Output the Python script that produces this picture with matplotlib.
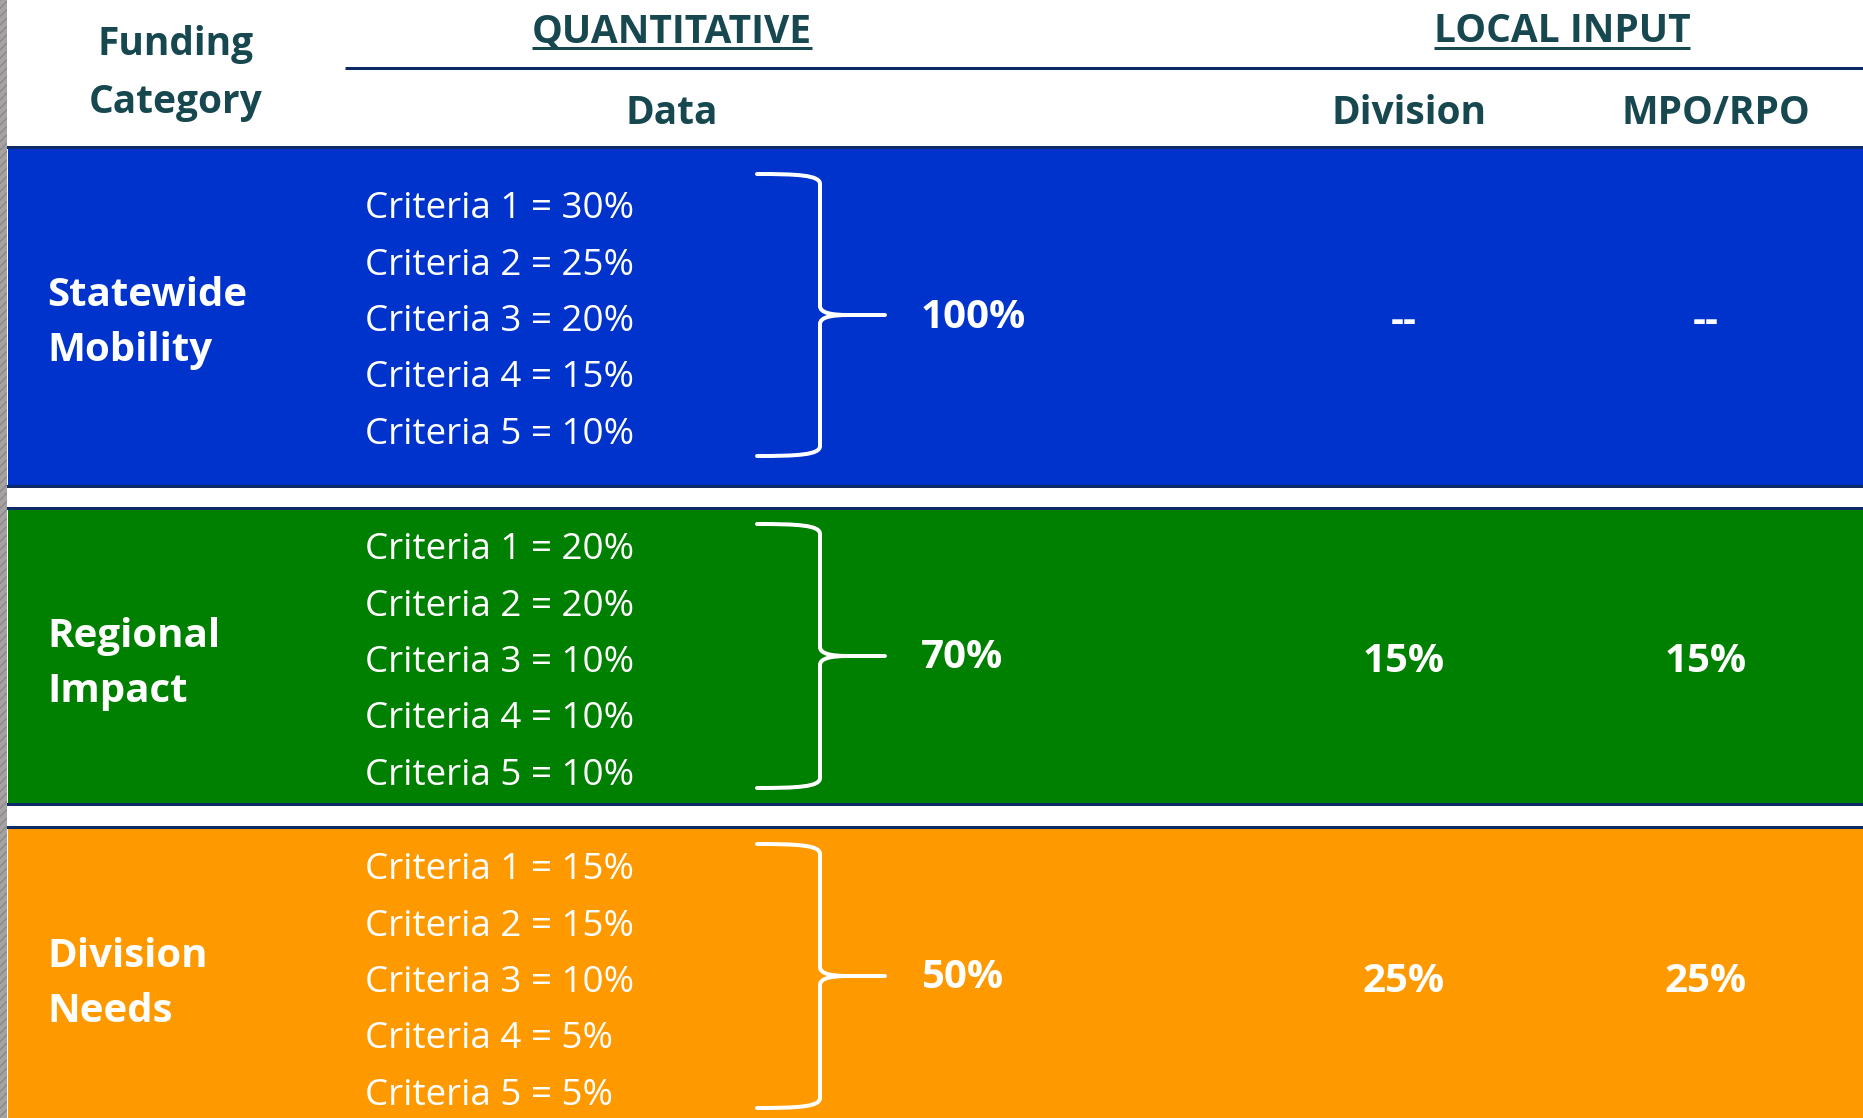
import matplotlib
matplotlib.use("Agg")
from matplotlib import pyplot as plt
from matplotlib.path import Path
from matplotlib.patches import PathPatch, Rectangle

# ---- data ----
categories = ["Statewide\nMobility", "Regional\nImpact", "Division\nNeeds"]
criteria_weights = [
    [30, 25, 20, 15, 10],
    [20, 20, 10, 10, 10],
    [15, 15, 10, 5, 5],
]
quant_share = [100, 70, 50]
division_share = [None, 15, 25]
mpo_share = [None, 15, 25]
band_colors = ["#0033CC", "#008000", "#FF9900"]

# ---- layout (pixels, figure is 1863 x 1118) ----
W, H = 1863, 1118
band_tops = [146, 507, 826]
band_bots = [487, 805, 1125]
band_mids = [315, 656, 976]
brace_half = [141, 132, 132]
HEAD = "#17474F"
NAVY = "#0C2A66"
FONT = "Open Sans"
TY = 6  # text baseline nudge


def px(v):
    # pixels -> points at dpi 100
    return v * 0.72


def brace(ax, xl, xv, xt, ytop, ymid, ybot):
    r = 10
    verts = [
        (xl, ytop), (xl + 40, ytop), (xv, ytop + 1), (xv, ytop + r),
        (xv, ymid - 9), (xv, ymid - 2), (xv + 12, ymid), (xv + 28, ymid),
        (xt, ymid),
        (xv + 28, ymid), (xv + 12, ymid), (xv, ymid + 2), (xv, ymid + 9),
        (xv, ybot - r), (xv, ybot - 1), (xl + 40, ybot), (xl, ybot),
    ]
    codes = [Path.MOVETO, Path.CURVE4, Path.CURVE4, Path.CURVE4,
             Path.LINETO, Path.CURVE4, Path.CURVE4, Path.CURVE4,
             Path.LINETO,
             Path.MOVETO, Path.CURVE4, Path.CURVE4, Path.CURVE4,
             Path.LINETO, Path.CURVE4, Path.CURVE4, Path.CURVE4]
    ax.add_patch(PathPatch(Path(verts, codes), fill=False, edgecolor="white",
                           lw=px(4), capstyle="round", joinstyle="round"))


fig = plt.figure(figsize=(W / 100, H / 100), dpi=100)
ax = fig.add_axes([0, 0, 1, 1])
ax.set_xlim(0, W)
ax.set_ylim(H, 0)
ax.axis("off")

# left textured strip
ax.add_patch(Rectangle((0, 0), 7, H, facecolor="#A6A2A2", edgecolor="#8C8888",
                       hatch="////", lw=0))

# header
ax.text(176, 39 + TY, "Funding", ha="center", va="center", fontsize=28,
        fontweight="bold", color=HEAD, family=FONT)
ax.text(176, 96 + TY, "Category", ha="center", va="center", fontsize=28,
        fontweight="bold", color=HEAD, family=FONT)
t_q = ax.text(672, 27 + TY - 1, "QUANTITATIVE", ha="center", va="center",
              fontsize=28, fontweight="bold", color=HEAD, family=FONT)
t_l = ax.text(1562, 26 + TY - 1, "LOCAL INPUT", ha="center", va="center",
              fontsize=28, fontweight="bold", color=HEAD, family=FONT)
ax.plot([345, W], [68, 68], color=NAVY, lw=px(3), solid_capstyle="butt")
for x, lab in zip([672, 1409, 1716], ["Data", "Division", "MPO/RPO"]):
    ax.text(x, 108 + TY, lab, ha="center", va="center", fontsize=28,
            fontweight="bold", color=HEAD, family=FONT)

# underline the two group titles
fig.canvas.draw()
inv = ax.transData.inverted()
for t in [t_q, t_l]:
    bb = t.get_window_extent()
    (x0, _), (x1, _) = inv.transform([(bb.x0, bb.y0), (bb.x1, bb.y1)])
    ax.plot([x0, x1], [48, 48], color=HEAD, lw=px(3), solid_capstyle="butt")

# bands
for i, cat in enumerate(categories):
    top, bot, mid = band_tops[i], band_bots[i], band_mids[i]
    ax.add_patch(Rectangle((8, top), W - 8, bot - top, facecolor=band_colors[i],
                           edgecolor="none"))
    ax.plot([8, W], [top + 1, top + 1], color=NAVY, lw=px(3))
    ax.plot([8, W], [bot - 1, bot - 1], color=NAVY, lw=px(3))

    ax.text(47, mid + 2 + TY, cat, ha="left", va="center", fontsize=29,
            fontweight="bold", color="white", family=FONT, linespacing=1.53)

    for k, w in enumerate(criteria_weights[i]):
        ax.text(365, mid + (k - 2) * 56.4 + TY + 1, f"Criteria {k + 1} = {w}%",
                ha="left", va="center", fontsize=26.5, color="white",
                family=FONT)

    brace(ax, 757, 820, 885, mid - brace_half[i], mid, mid + brace_half[i])

    ax.text(921, mid - 4 + TY, f"{quant_share[i]}%", ha="left", va="center",
            fontsize=29, fontweight="bold", color="white", family=FONT)

    for x, v in zip([1404, 1706], [division_share[i], mpo_share[i]]):
        lab = "--" if v is None else f"{v}%"
        ax.text(x, mid + TY, lab, ha="center", va="center", fontsize=29,
                fontweight="bold", color="white", family=FONT)

fig.savefig("out.png", dpi=100)
